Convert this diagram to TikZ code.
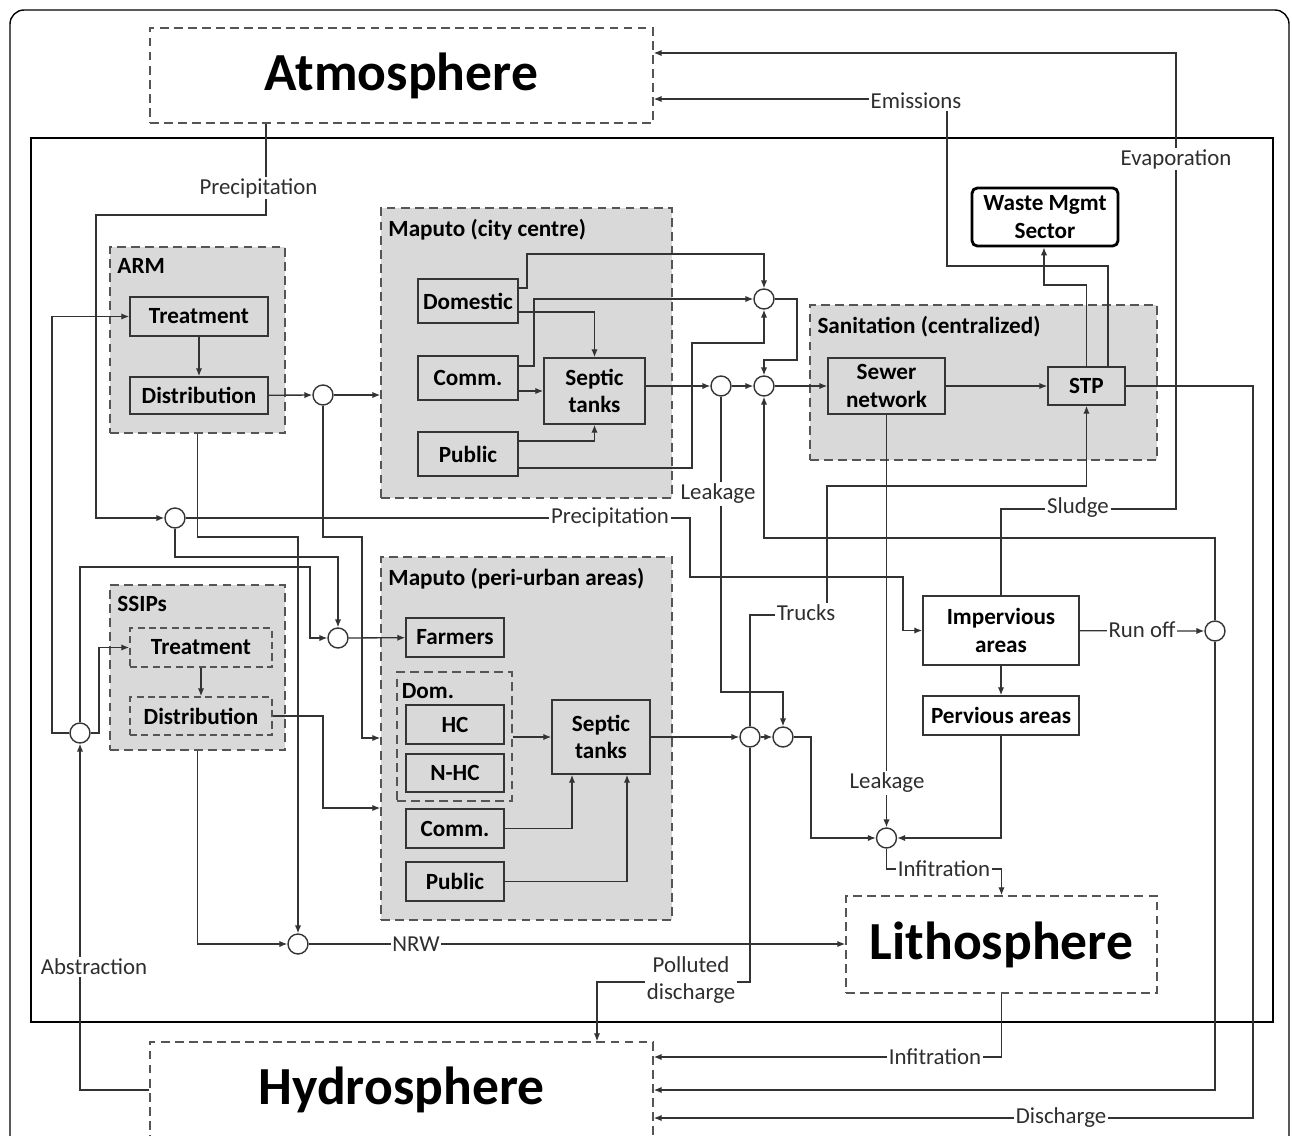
\documentclass[tikz,border=0pt]{standalone}
\usepackage{fontspec}
\setmainfont{Carlito}
\usetikzlibrary{arrows.meta, positioning}
\definecolor{grpGray}{HTML}{D9D9D9}
\definecolor{edgeDark}{HTML}{353535}
\definecolor{dashGray}{HTML}{555555}
\definecolor{lineDark}{HTML}{333333}
\definecolor{textDark}{HTML}{2E2E2E}
\newcommand{\unitfont}{\fontsize{13.2}{15.5}\selectfont\bfseries}
\newcommand{\flowfont}{\fontsize{13}{15}\selectfont}
\newcommand{\spherefont}{\fontsize{30.5}{34}\selectfont\bfseries}
\tikzset{
  arrowF/.style={-{Latex[length=4.5pt,width=3.6pt]}, draw=lineDark, line width=0.75pt},
  boxUnit/.style={rectangle, draw=edgeDark, fill=grpGray, line width=0.9pt,
                  align=center, font=\unitfont, inner sep=0pt},
  boxSub/.style={boxUnit, draw=dashGray, dash pattern=on 4pt off 2.5pt},
  boxPlain/.style={boxUnit, fill=white},
  boxGroup/.style={rectangle, draw=dashGray, fill=grpGray, line width=0.9pt,
                   dash pattern=on 5pt off 3pt, inner sep=0pt},
  boxSphere/.style={rectangle, draw=dashGray, fill=white, line width=0.9pt,
                    dash pattern=on 5pt off 3pt, font=\spherefont, inner sep=0pt},
  boxWaste/.style={rectangle, rounded corners=3pt, draw=black, fill=white,
                   line width=1.6pt, align=center, font=\unitfont, inner sep=0pt},
  junc/.style={circle, draw=edgeDark, fill=white, line width=0.8pt,
               minimum size=0.4cm, inner sep=0pt},
  lblF/.style={fill=white, inner sep=1pt, font=\flowfont, text=textDark, align=center},
  lblGroup/.style={anchor=north west, font=\unitfont, inner sep=0pt,
                   xshift=4.5pt, yshift=-6.5pt},
}

\begin{document}
\begin{tikzpicture}[x=0.02cm, y=-0.02cm]
  \useasboundingbox (0,0) rectangle (1292,1136);
  % frames
  \draw[line width=0.8pt, rounded corners=8pt] (10,10) rectangle (1289,1220);
  \draw[line width=1.5pt] (31,138) rectangle (1273,1022);

  % spheres
  \node[boxSphere, minimum width=10.06cm, minimum height=1.9cm] (atm) at (401.5,75.5) {Atmosphere};
  \node[boxSphere, minimum width=10.06cm, minimum height=1.92cm] (hyd) at (401.5,1090) {Hydrosphere};
  \node[boxSphere, minimum width=6.22cm, minimum height=1.94cm] (lith) at (1001.5,944.5) {Lithosphere};

  % ARM and SSIPs
  \node[boxGroup, minimum width=3.5cm, minimum height=3.72cm] (arm) at (197.5,340) {};
  \node[lblGroup] (lArm) at (arm.north west) {ARM};
  \node[boxUnit, minimum width=2.76cm, minimum height=0.78cm] (treatA) at (199,316.5) {Treatment};
  \node[boxUnit, minimum width=2.76cm, minimum height=0.74cm] (distA) at (199,395.5) {Distribution};
  \node[boxGroup, minimum width=3.5cm, minimum height=3.3cm] (ssip) at (197.5,667.5) {};
  \node[lblGroup] (lSsip) at (ssip.north west) {SSIPs};
  \node[boxSub, minimum width=2.84cm, minimum height=0.78cm] (treatS) at (201,647.5) {Treatment};
  \node[boxSub, minimum width=2.84cm, minimum height=0.76cm] (distS) at (201,716) {Distribution};

  % city centre
  \node[boxGroup, minimum width=5.82cm, minimum height=5.8cm] (city) at (526.5,353) {};
  \node[lblGroup] (lCity) at (city.north west) {Maputo (city centre)};
  \node[boxUnit, minimum width=2cm, minimum height=0.88cm] (dom) at (468,301) {Domestic};
  \node[boxUnit, minimum width=2cm, minimum height=0.88cm] (com) at (468,378) {Comm.};
  \node[boxUnit, minimum width=2cm, minimum height=0.88cm] (pub) at (468,454) {Public};
  \node[boxUnit, minimum width=2.02cm, minimum height=1.32cm] (sepC) at (594.5,391) {Septic\\tanks};

  % sanitation
  \node[boxGroup, minimum width=6.94cm, minimum height=3.1cm] (sani) at (983.5,382.5) {};
  \node[lblGroup] (lSani) at (sani.north west) {Sanitation (centralized)};
  \node[boxUnit, minimum width=2.34cm, minimum height=1.12cm] (sewer) at (886.5,386) {Sewer\\network};
  \node[boxUnit, minimum width=1.54cm, minimum height=0.76cm] (stp) at (1086.5,386) {STP};
  \node[boxWaste, minimum width=2.92cm, minimum height=1.16cm] (waste) at (1045,217) {Waste Mgmt\\Sector};

  % peri-urban areas
  \node[boxGroup, minimum width=5.82cm, minimum height=7.26cm] (peri) at (526.5,738.5) {};
  \node[lblGroup] (lPeri) at (peri.north west) {Maputo (peri-urban areas)};
  \node[boxUnit, minimum width=1.96cm, minimum height=0.78cm] (farm) at (455,637.5) {Farmers};
  \node[boxGroup, minimum width=2.3cm, minimum height=2.58cm] (domP) at (454.5,736.5) {};
  \node[lblGroup, xshift=-1.5pt] (lDomP) at (domP.north west) {Dom.};
  \node[boxUnit, minimum width=1.96cm, minimum height=0.78cm] (hc) at (455,724.5) {HC};
  \node[boxUnit, minimum width=1.96cm, minimum height=0.76cm] (nhc) at (455,773) {N-HC};
  \node[boxUnit, minimum width=1.96cm, minimum height=0.78cm] (com2) at (455,828.5) {Comm.};
  \node[boxUnit, minimum width=1.96cm, minimum height=0.78cm] (pub2) at (455,881.5) {Public};
  \node[boxUnit, minimum width=1.96cm, minimum height=1.48cm] (sepP) at (601,737) {Septic\\tanks};

  % surfaces
  \node[boxPlain, minimum width=3.12cm, minimum height=1.38cm] (imp) at (1001,630.5) {Impervious\\areas};
  \node[boxPlain, minimum width=3.12cm, minimum height=0.78cm] (perv) at (1001,715.5) {Pervious areas};

  % junctions
  \foreach \n/\jx/\jy in {j1/323/395, j2/175/518, j3/338/638, j4/80/733,
      j5/298/944, j6/721/386, j7/764/386, j8/764/299, j9/750/737,
      j10/783/737, j11/886.5/838, j12/1215/631}
    \node[junc] (\n) at (\jx,\jy) {};

  % water supply
  \draw[arrowF] (atm.south -| 266,0) |- (96,215) |- (j2.west);
  \draw[arrowF] (j2.east) -- (690,518) |- (903,577) |- (imp.west);
  \draw[arrowF] (j2.south) |- (j3 |- 0,557) -- (j3.north);
  \draw[arrowF] (hyd.west) -| (j4.south);
  \draw[arrowF] (j4.west) -| (52,316.5) -- (treatA.west);
  \draw[arrowF] (j4.east) -| (99,647.5) -- (treatS.west);
  \draw[arrowF] (j4.north) |- (310,567) |- (j3.west);
  \draw[arrowF] (treatA) -- (distA);
  \draw[arrowF] (distA) -- (j1);
  \draw[arrowF] (j1) -- (city.west |- j1);
  \draw[arrowF] (j1.south) |- (362,537) |- (peri.west |- 0,738);
  \draw[arrowF] (arm.south) |- (j5 |- 0,537) -- (j5.north);
  \draw[arrowF] (j3) -- (farm);
  \draw[arrowF] (treatS) -- (distS);
  \draw[arrowF] (distS.east) -- (323,716) |- (peri.west |- 0,808);
  \draw[arrowF] (ssip.south) |- (j5.west);
  \draw[arrowF] (j5) -- (lith.west |- j5);

  % city centre sanitation
  \draw[arrowF] (dom.east |- 0,288) -| (527,254) -| (j8.north);
  \draw[arrowF] (dom.east |- 0,312) -| (sepC.north);
  \draw[arrowF] (com.east |- 0,366) -| (534,299) -- (j8.west);
  \draw[arrowF] (com.east |- 0,391) -- (sepC.west |- 0,391);
  \draw[arrowF] (pub.east |- 0,441) -| (sepC.south);
  \draw[arrowF] (pub.east |- 0,468) -| (692,343) -| (j8.south);
  \draw[arrowF] (sepC.east |- j6) -- (j6.west);
  \draw[arrowF] (j6) -- (j7);
  \draw[arrowF] (j8.east) -| (797,360) -| (j7.north);
  \draw[arrowF] (j7) -- (sewer);
  \draw[arrowF] (sewer) -- (stp);
  \draw[arrowF] (stp.north) |- (1044,285) -- (waste.south -| 1044,0);
  \draw[arrowF] (stp.north -| 1108,0) |- (947,266) |- (atm.east |- 0,99);
  \draw[arrowF] (stp.east) -- (1253,386) |- (hyd.east |- 0,1118);
  \draw[arrowF] (sewer.south) -- (j11.north);
  \draw[arrowF] (j6.south) -- (j6 |- 0,692) -| (j10.north);

  % storm water
  \draw[arrowF] (imp.north) |- (1176,509) |- (atm.east |- 0,53);
  \draw[arrowF] (imp) -- (perv);
  \draw[arrowF] (imp) -- (j12);
  \draw[arrowF] (j12.north) |- (j7 |- 0,538) -- (j7.south);
  \draw[arrowF] (j12.south) |- (hyd.east |- 0,1090);
  \draw[arrowF] (perv.south) |- (j11.east);

  % peri-urban sanitation
  \draw[arrowF] (domP.east |- sepP) -- (sepP.west);
  \draw[arrowF] (com2.east) -| (sepP.south -| 572,0);
  \draw[arrowF] (pub2.east) -| (sepP.south -| 627,0);
  \draw[arrowF] (sepP) -- (j9);
  \draw[arrowF] (j9) -- (j10);
  \draw[arrowF] (j10.east) -- (811,737) |- (j11.west);
  \draw[arrowF] (j9.north) |- (827,615) -- (827,486) -| (stp.south);
  \draw[arrowF] (j9.south) |- (597,982) -- (hyd.north -| 597,0);
  \draw[arrowF] (j11.south) |- (lith.north |- 0,869) -- (lith.north);
  \draw[arrowF] (lith.south) |- (hyd.east |- 0,1057);

  % flow labels
  \node[lblF] (lPrecA) at (258.5,188) {Precipitation};
  \node[lblF] (lPrecB) at (610,517) {Precipitation};
  \node[lblF] (lEmis) at (916,101) {Emissions};
  \node[lblF] (lEvap) at (1176,159) {Evaporation};
  \node[lblF] (lSludge) at (1078,508) {Sludge};
  \node[lblF] (lLeakA) at (718,494) {Leakage};
  \node[lblF] (lTrucks) at (806,613) {Trucks};
  \node[lblF] (lRun) at (1142,630) {Run off};
  \node[lblF] (lLeakB) at (887,783) {Leakage};
  \node[lblF] (lInfA) at (944,869) {Infitration};
  \node[lblF] (lNrw) at (416,944) {NRW};
  \node[lblF] (lPoll) at (691,980) {Polluted\\discharge};
  \node[lblF] (lAbs) at (94,967) {Abstraction};
  \node[lblF] (lInfB) at (935,1057) {Infitration};
  \node[lblF] (lDis) at (1061,1118) {Discharge};
\end{tikzpicture}
\end{document}
